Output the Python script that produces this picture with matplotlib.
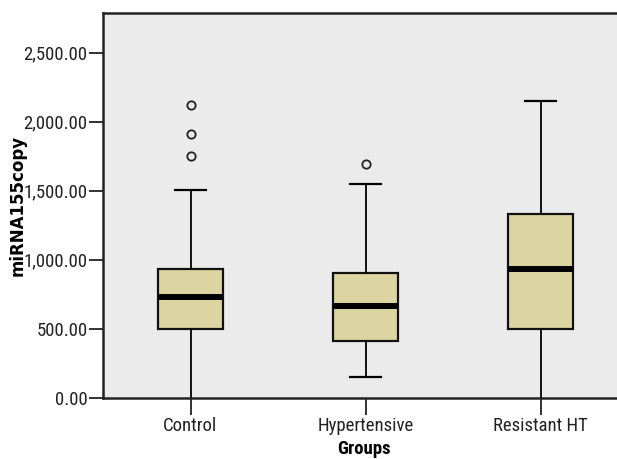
import matplotlib
matplotlib.use("Agg")
import matplotlib.pyplot as plt
from matplotlib import font_manager
from matplotlib.ticker import FuncFormatter

groups = ["Control", "Hypertensive", "Resistant HT"]
q1 = [497, 415, 497]
median = [733, 666, 936]
q3 = [936, 902, 1329]
whislo = [0, 154, 0]
whishi = [1505, 1549, 2150]
outliers = [[2118, 1908, 1749], [1691], []]

# pick a narrow font if one is installed
names = {f.name for f in font_manager.fontManager.ttflist}
fam, stretch = 'DejaVu Sans', 'normal'
for cand in ['Liberation Sans Narrow', 'Roboto Condensed', 'Open Sans Condensed']:
    if cand in names:
        fam = cand
        break
else:
    if any(f.name == 'DejaVu Sans' and f.stretch == 'condensed'
           for f in font_manager.fontManager.ttflist):
        stretch = 'condensed'
plt.rcParams['font.family'] = [fam, 'DejaVu Sans']
plt.rcParams['font.stretch'] = stretch

fig = plt.figure(figsize=(6.17, 4.59), dpi=100)
ax = fig.add_axes([103/617, 61/459, 525/617, 385/459])
ax.set_facecolor('#ebebeb')

stats = []
for i, g in enumerate(groups):
    stats.append(dict(label=g, q1=q1[i], med=median[i], q3=q3[i],
                      whislo=whislo[i], whishi=whishi[i], fliers=outliers[i]))

res = ax.bxp(stats, positions=[1, 2, 3], widths=0.366, capwidths=0.177,
             patch_artist=True, showfliers=True,
             boxprops=dict(facecolor='#dcd5a2', edgecolor='#111111', linewidth=1.6),
             medianprops=dict(color='black', linewidth=4.3, solid_capstyle='butt'),
             whiskerprops=dict(color='black', linewidth=1.3),
             capprops=dict(color='black', linewidth=1.6),
             flierprops=dict(marker='o', markerfacecolor='none', markeredgecolor='#222222',
                             markersize=6, markeredgewidth=1.3))
# lower caps at the axis line are not drawn in the reference
for i in range(len(groups)):
    if whislo[i] == 0:
        res['caps'][2 * i].set_visible(False)

ax.set_xlim(0.5, 3.5)
ax.set_ylim(0, 2787)
ax.set_yticks([0, 500, 1000, 1500, 2000, 2500])
ax.yaxis.set_major_formatter(FuncFormatter(lambda v, p: f"{v:,.2f}"))
ax.set_xticks([1, 2, 3])
ax.set_xticklabels(groups)

for s in ['top', 'left', 'bottom']:
    ax.spines[s].set_linewidth(1.8)
    ax.spines[s].set_color('#222222')
ax.spines['right'].set_visible(False)

ax.tick_params(axis='y', length=10, width=1.3, labelsize=13.5, pad=1, colors='#222222')
ax.tick_params(axis='x', length=12, width=1.3, labelsize=13.5, pad=2, colors='#222222')

ax.set_ylabel("miRNA155copy", fontsize=12, fontweight='bold',
              family=['DejaVu Sans'], stretch='normal')
ax.set_xlabel("Groups", fontsize=13.5, fontweight='bold')
ax.yaxis.set_label_coords(-(103 - 18) / 525, 0.5)
ax.yaxis.label.set_va('center')
ax.xaxis.set_label_coords((364 - 103) / 525, -(449 - 398) / 385)
ax.xaxis.label.set_va('center')

fig.savefig("out.png", dpi=100)
